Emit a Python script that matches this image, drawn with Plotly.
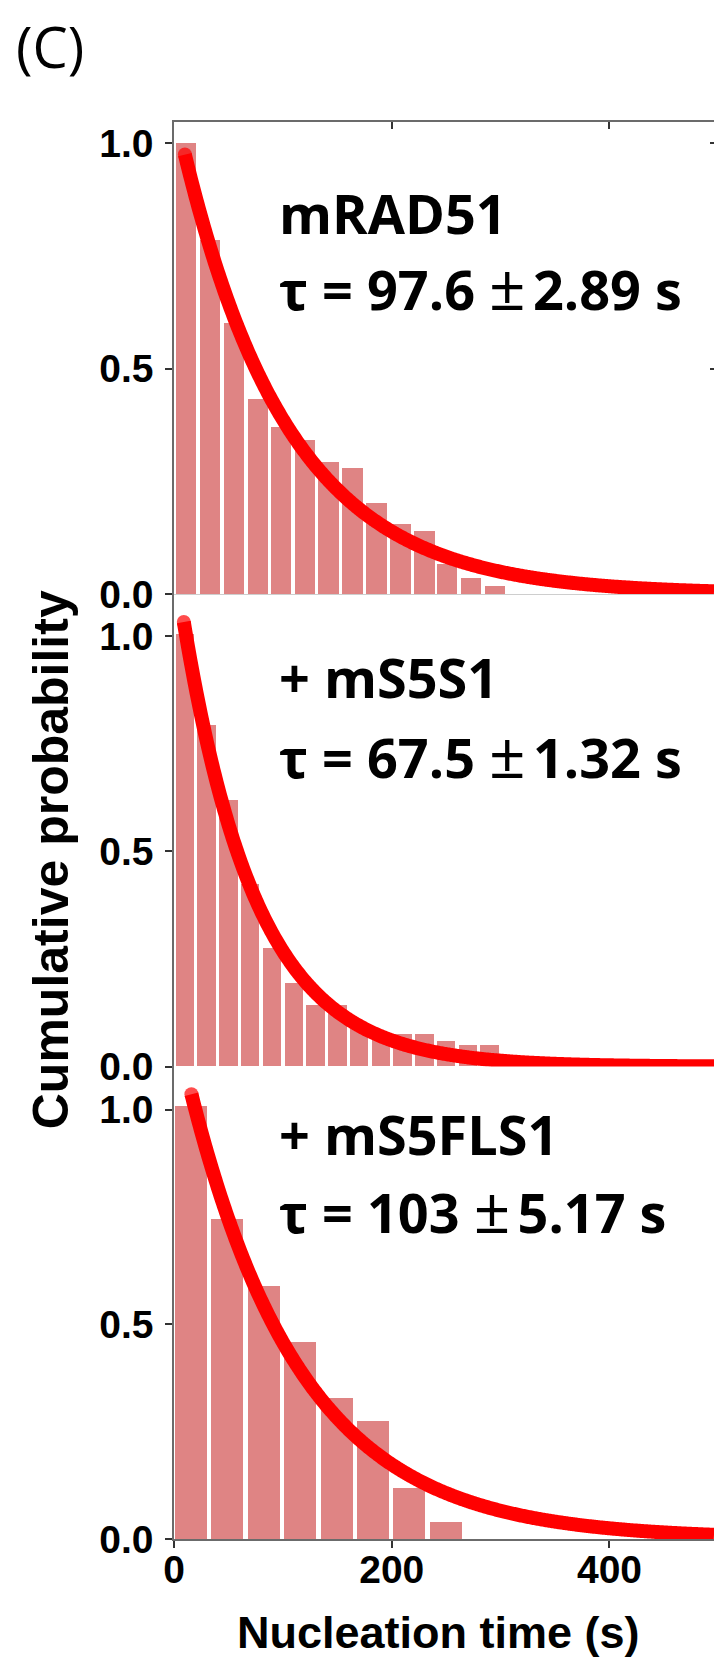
import numpy as np
import plotly.graph_objects as go

# ---- data: survival fraction of un-nucleated filaments vs time ----
rad51_t = [11, 33, 55, 77, 98, 120, 142, 164, 186, 208, 230, 251, 273, 295]
rad51_p = [1.0, 0.786, 0.601, 0.432, 0.371, 0.342, 0.294, 0.279, 0.202, 0.157,
           0.140, 0.068, 0.036, 0.018]

s5s1_t = [10, 30, 50, 70, 90, 110, 130, 150, 170, 190, 210, 230, 250, 270, 290]
s5s1_p = [1.005, 0.792, 0.619, 0.424, 0.275, 0.194, 0.142, 0.142, 0.086, 0.078,
          0.076, 0.076, 0.060, 0.049, 0.049]

s5fls1_t = [16, 49, 83, 116, 150, 183, 216, 250]
s5fls1_p = [1.01, 0.747, 0.589, 0.459, 0.328, 0.275, 0.12, 0.04]

names = ["mRAD51", "+ mS5S1", "+ mS5FLS1"]
tau = [97.6, 67.5, 103]          # fitted time constants (s)
tau_err = [2.89, 1.32, 5.17]
tau_txt = ["97.6", "67.5", "103"]
err_txt = ["2.89", "1.32", "5.17"]
amp = [1.08, 1.18, 1.21]         # fitted amplitudes
fit_start = [10, 9, 16]          # first time point of the fit curve (s)

bar_t = [rad51_t, s5s1_t, s5fls1_t]
bar_p = [rad51_p, s5s1_p, s5fls1_p]
bar_w = [18.6, 17.0, 29.4]
y_top = [1.047, 1.097, 1.10]

X_MAX = 496
BAR_COLOR = "#DF8484"
FIT_COLOR = "#FF0000"
AXIS_COLOR = "#6b6b6b"
TICK_FONT = dict(family="Liberation Sans", size=39, color="black", weight="bold")

fig = go.Figure()

for i in range(3):
    xa = "x" if i == 0 else f"x{i+1}"
    ya = "y" if i == 0 else f"y{i+1}"
    fig.add_trace(go.Bar(
        x=bar_t[i], y=bar_p[i], width=bar_w[i],
        marker=dict(color=BAR_COLOR, line=dict(width=0)),
        xaxis=xa, yaxis=ya, showlegend=False, hoverinfo="skip"))
    t = np.linspace(fit_start[i], X_MAX, 500)
    sizes = [14] + [0] * (len(t) - 1)
    fig.add_trace(go.Scatter(
        x=t, y=amp[i] * np.exp(-t / tau[i]), mode="lines+markers",
        line=dict(color=FIT_COLOR, width=14, simplify=False),
        marker=dict(color=FIT_COLOR, size=sizes, line=dict(width=0)),
        xaxis=xa, yaxis=ya, showlegend=False, hoverinfo="skip"))

# empty traces so the mirrored (top / right) axes get drawn
fig.add_trace(go.Scatter(x=[0], y=[0], mode="markers", marker=dict(opacity=0),
                         xaxis="x4", yaxis="y", showlegend=False, hoverinfo="skip"))
for ya in ("y4", "y5", "y6"):
    fig.add_trace(go.Scatter(x=[0], y=[0], mode="markers", marker=dict(opacity=0),
                             xaxis="x", yaxis=ya, showlegend=False, hoverinfo="skip"))

x_common = dict(range=[0, X_MAX], tickvals=[0, 200, 400], ticks="outside",
                ticklen=7, tickwidth=1.5, tickcolor="#333333",
                showline=True, linecolor=AXIS_COLOR, linewidth=1.5,
                showgrid=False, zeroline=False, tickfont=TICK_FONT,
                ticklabelstandoff=-12)
y_common = dict(tickvals=[0, 0.5, 1.0], ticktext=["0.0", "0.5", "1.0"],
                ticks="outside", ticklen=7, tickwidth=1.5, tickcolor="#333333",
                showline=True, linecolor=AXIS_COLOR, linewidth=1.5,
                showgrid=False, zeroline=False, tickfont=TICK_FONT,
                ticklabelstandoff=4)
y_right = dict(tickvals=[0, 0.5, 1.0], ticks="inside", ticklen=4, tickwidth=1.5,
               tickcolor="#333333", showline=False, showticklabels=False,
               showgrid=False, zeroline=False, side="right", anchor="x")

domains = [[2 / 3, 1], [1 / 3, 2 / 3], [0, 1 / 3]]

fig.update_layout(
    width=714, height=1661,
    margin=dict(l=174, r=0, t=122, b=122),
    paper_bgcolor="white", plot_bgcolor="white",
    bargap=0,
    xaxis=dict(**x_common, anchor="y", showticklabels=False),
    xaxis2=dict(**x_common, anchor="y2", showticklabels=False),
    xaxis3=dict(**x_common, anchor="y3", showticklabels=True),
    xaxis4=dict(range=[0, X_MAX], tickvals=[0, 200, 400], ticks="inside",
                ticklen=7, tickwidth=1.5, tickcolor="#333333",
                showline=True, linecolor=AXIS_COLOR, linewidth=1.5,
                showticklabels=False, showgrid=False, zeroline=False,
                overlaying="x", side="top", anchor="y"),
    yaxis=dict(**y_common, domain=domains[0], range=[0, y_top[0]], anchor="x"),
    yaxis2=dict(**y_common, domain=domains[1], range=[0, y_top[1]], anchor="x2"),
    yaxis3=dict(**y_common, domain=domains[2], range=[0, y_top[2]], anchor="x3"),
    yaxis4=dict(**y_right, range=[0, y_top[0]], overlaying="y"),
    yaxis5=dict(**y_right, range=[0, y_top[1]], overlaying="y2"),
    yaxis6=dict(**y_right, range=[0, y_top[2]], overlaying="y3"),
)

# panel labels and fitted time constants
label_y = [0.845, 0.906, 0.944]
tau_y = [0.684, 0.728, 0.769]
LABEL_FONT = dict(family="Open Sans", size=54, color="black")
PM = '<span style="font-size:64px">±</span><span style="font-size:28px"> </span>'
for i in range(3):
    yref = "y" if i == 0 else f"y{i+1}"
    xref = "x" if i == 0 else f"x{i+1}"
    fig.add_annotation(text=f"<b>{names[i]}</b>", x=95, y=label_y[i],
                       xref=xref, yref=yref, xanchor="left", yanchor="middle",
                       showarrow=False, font=LABEL_FONT)
    fig.add_annotation(text=f"<b>τ = {tau_txt[i]}</b> {PM}<b>{err_txt[i]} s</b>",
                       x=95, y=tau_y[i], xref=xref, yref=yref,
                       xanchor="left", yanchor="middle",
                       showarrow=False, font=LABEL_FONT)

# axis titles and panel letter
fig.add_annotation(text="<b>Cumulative probability</b>", textangle=-90,
                   x=(51 - 174) / 540, y=0.479, xref="paper", yref="paper",
                   xanchor="center", yanchor="middle", showarrow=False,
                   font=dict(family="Liberation Sans", size=50, color="black"))
fig.add_annotation(text="<b>Nucleation time (s)</b>",
                   x=(438 - 174) / 540, y=-0.066, xref="paper", yref="paper",
                   xanchor="center", yanchor="middle", showarrow=False,
                   font=dict(family="Liberation Sans", size=45, color="black"))
fig.add_annotation(text="(C)", x=(14 - 174) / 540, y=1.0534,
                   xref="paper", yref="paper", xanchor="left", yanchor="middle",
                   showarrow=False,
                   font=dict(family="Open Sans", size=56, color="black"))

fig.write_html("out.html")
